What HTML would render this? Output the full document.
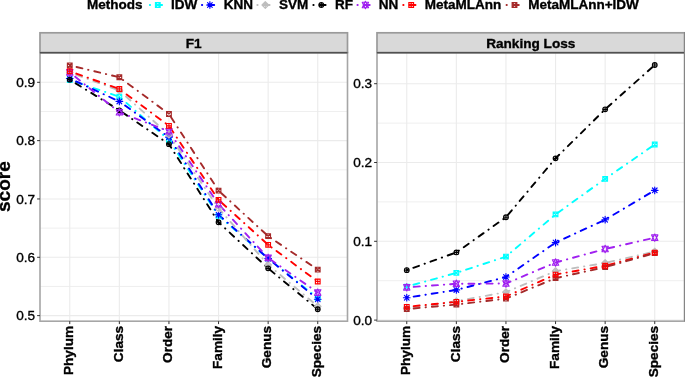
<!DOCTYPE html>
<html><head><meta charset="utf-8"><style>
html,body{margin:0;padding:0;background:#fff;width:685px;height:377px;overflow:hidden;}
svg{display:block;font-family:"Liberation Sans",sans-serif;}
svg{will-change:transform;}
</style></head><body><svg width="685" height="377" viewBox="0 0 685 377" font-family="Liberation Sans, sans-serif"><rect width="685" height="377" fill="#fff"/><rect x="40.0" y="52.5" width="307.5" height="268.7" fill="#fff"/><line x1="40.0" x2="347.5" y1="286.45" y2="286.45" stroke="#EFEFEF" stroke-width="1.0"/><line x1="40.0" x2="347.5" y1="228.12" y2="228.12" stroke="#EFEFEF" stroke-width="1.0"/><line x1="40.0" x2="347.5" y1="169.80" y2="169.80" stroke="#EFEFEF" stroke-width="1.0"/><line x1="40.0" x2="347.5" y1="111.47" y2="111.47" stroke="#EFEFEF" stroke-width="1.0"/><line x1="40.0" x2="347.5" y1="315.62" y2="315.62" stroke="#EBEBEB" stroke-width="1.1"/><line x1="40.0" x2="347.5" y1="257.29" y2="257.29" stroke="#EBEBEB" stroke-width="1.1"/><line x1="40.0" x2="347.5" y1="198.96" y2="198.96" stroke="#EBEBEB" stroke-width="1.1"/><line x1="40.0" x2="347.5" y1="140.63" y2="140.63" stroke="#EBEBEB" stroke-width="1.1"/><line x1="40.0" x2="347.5" y1="82.30" y2="82.30" stroke="#EBEBEB" stroke-width="1.1"/><line x1="69.76" x2="69.76" y1="52.5" y2="321.2" stroke="#EBEBEB" stroke-width="1.1"/><line x1="119.35" x2="119.35" y1="52.5" y2="321.2" stroke="#EBEBEB" stroke-width="1.1"/><line x1="168.95" x2="168.95" y1="52.5" y2="321.2" stroke="#EBEBEB" stroke-width="1.1"/><line x1="218.55" x2="218.55" y1="52.5" y2="321.2" stroke="#EBEBEB" stroke-width="1.1"/><line x1="268.15" x2="268.15" y1="52.5" y2="321.2" stroke="#EBEBEB" stroke-width="1.1"/><line x1="317.74" x2="317.74" y1="52.5" y2="321.2" stroke="#EBEBEB" stroke-width="1.1"/><polyline points="69.76,79.97 119.35,96.71 168.95,140.05 218.55,215.88 268.15,258.46 317.74,298.12" fill="none" stroke="#00FFFF" stroke-width="1.9" stroke-dasharray="0.3 5.98 6.0 5.98" stroke-dashoffset="-0.68" stroke-linecap="round" stroke-linejoin="round"/><polyline points="69.76,78.51 119.35,101.43 168.95,137.13 218.55,214.71 268.15,258.46 317.74,299.29" fill="none" stroke="#0000FF" stroke-width="1.9" stroke-dasharray="0.3 5.98 6.0 5.98" stroke-dashoffset="-0.68" stroke-linecap="round" stroke-linejoin="round"/><polyline points="69.76,72.38 119.35,90.47 168.95,134.80 218.55,208.29 268.15,264.87 317.74,306.29" fill="none" stroke="#BEBEBE" stroke-width="1.9" stroke-dasharray="0.3 5.98 6.0 5.98" stroke-dashoffset="-0.68" stroke-linecap="round" stroke-linejoin="round"/><polyline points="69.76,79.68 119.35,110.30 168.95,144.13 218.55,222.29 268.15,268.37 317.74,309.20" fill="none" stroke="#000000" stroke-width="1.9" stroke-dasharray="0.3 5.98 6.0 5.98" stroke-dashoffset="-0.68" stroke-linecap="round" stroke-linejoin="round"/><polyline points="69.76,72.38 119.35,112.28 168.95,131.30 218.55,204.21 268.15,257.87 317.74,292.58" fill="none" stroke="#A020F0" stroke-width="1.9" stroke-dasharray="0.3 5.98 6.0 5.98" stroke-dashoffset="-0.68" stroke-linecap="round" stroke-linejoin="round"/><polyline points="69.76,71.22 119.35,89.01 168.95,125.81 218.55,199.89 268.15,244.81 317.74,281.50" fill="none" stroke="#FF0000" stroke-width="1.9" stroke-dasharray="0.3 5.98 6.0 5.98" stroke-dashoffset="-0.68" stroke-linecap="round" stroke-linejoin="round"/><polyline points="69.76,65.38 119.35,77.28 168.95,113.97 218.55,190.62 268.15,236.17 317.74,269.60" fill="none" stroke="#A52A2A" stroke-width="1.9" stroke-dasharray="0.3 5.98 6.0 5.98" stroke-dashoffset="-0.68" stroke-linecap="round" stroke-linejoin="round"/><path d="M67.41 77.62H72.11V82.32H67.41Z M67.41 77.62L72.11 82.32M67.41 82.32L72.11 77.62" stroke="#00FFFF" stroke-width="1.15" fill="none"/><path d="M117.00 94.36H121.70V99.06H117.00Z M117.00 94.36L121.70 99.06M117.00 99.06L121.70 94.36" stroke="#00FFFF" stroke-width="1.15" fill="none"/><path d="M166.60 137.70H171.30V142.40H166.60Z M166.60 137.70L171.30 142.40M166.60 142.40L171.30 137.70" stroke="#00FFFF" stroke-width="1.15" fill="none"/><path d="M216.20 213.53H220.90V218.23H216.20Z M216.20 213.53L220.90 218.23M216.20 218.23L220.90 213.53" stroke="#00FFFF" stroke-width="1.15" fill="none"/><path d="M265.80 256.11H270.50V260.81H265.80Z M265.80 256.11L270.50 260.81M265.80 260.81L270.50 256.11" stroke="#00FFFF" stroke-width="1.15" fill="none"/><path d="M315.39 295.77H320.09V300.47H315.39Z M315.39 295.77L320.09 300.47M315.39 300.47L320.09 295.77" stroke="#00FFFF" stroke-width="1.15" fill="none"/><path d="M66.43 78.51H73.08M69.76 75.19V81.83M67.41 76.16L72.11 80.86M67.41 80.86L72.11 76.16" stroke="#0000FF" stroke-width="1.15" fill="none" stroke-linecap="round"/><path d="M116.03 101.43H122.68M119.35 98.11V104.76M117.00 99.08L121.70 103.78M117.00 103.78L121.70 99.08" stroke="#0000FF" stroke-width="1.15" fill="none" stroke-linecap="round"/><path d="M165.63 137.13H172.27M168.95 133.81V140.45M166.60 134.78L171.30 139.48M166.60 139.48L171.30 134.78" stroke="#0000FF" stroke-width="1.15" fill="none" stroke-linecap="round"/><path d="M215.23 214.71H221.87M218.55 211.39V218.03M216.20 212.36L220.90 217.06M216.20 217.06L220.90 212.36" stroke="#0000FF" stroke-width="1.15" fill="none" stroke-linecap="round"/><path d="M264.82 258.46H271.47M268.15 255.13V261.78M265.80 256.11L270.50 260.81M265.80 260.81L270.50 256.11" stroke="#0000FF" stroke-width="1.15" fill="none" stroke-linecap="round"/><path d="M314.42 299.29H321.07M317.74 295.96V302.61M315.39 296.94L320.09 301.64M315.39 301.64L320.09 296.94" stroke="#0000FF" stroke-width="1.15" fill="none" stroke-linecap="round"/><path d="M69.76 69.06L73.08 72.38L69.76 75.71L66.43 72.38Z M66.43 72.38H73.08M69.76 69.06V75.71" stroke="#BEBEBE" stroke-width="1.15" fill="none" stroke-linejoin="round"/><path d="M119.35 87.14L122.68 90.47L119.35 93.79L116.03 90.47Z M116.03 90.47H122.68M119.35 87.14V93.79" stroke="#BEBEBE" stroke-width="1.15" fill="none" stroke-linejoin="round"/><path d="M168.95 131.47L172.27 134.80L168.95 138.12L165.63 134.80Z M165.63 134.80H172.27M168.95 131.47V138.12" stroke="#BEBEBE" stroke-width="1.15" fill="none" stroke-linejoin="round"/><path d="M218.55 204.97L221.87 208.29L218.55 211.62L215.23 208.29Z M215.23 208.29H221.87M218.55 204.97V211.62" stroke="#BEBEBE" stroke-width="1.15" fill="none" stroke-linejoin="round"/><path d="M268.15 261.55L271.47 264.87L268.15 268.20L264.82 264.87Z M264.82 264.87H271.47M268.15 261.55V268.20" stroke="#BEBEBE" stroke-width="1.15" fill="none" stroke-linejoin="round"/><path d="M317.74 302.96L321.07 306.29L317.74 309.61L314.42 306.29Z M314.42 306.29H321.07M317.74 302.96V309.61" stroke="#BEBEBE" stroke-width="1.15" fill="none" stroke-linejoin="round"/><circle cx="69.76" cy="79.68" r="2.35" stroke="#000000" stroke-width="1.15" fill="none"/><path d="M67.41 79.68H72.11M69.76 77.33V82.03" stroke="#000000" stroke-width="1.15" fill="none"/><circle cx="119.35" cy="110.30" r="2.35" stroke="#000000" stroke-width="1.15" fill="none"/><path d="M117.00 110.30H121.70M119.35 107.95V112.65" stroke="#000000" stroke-width="1.15" fill="none"/><circle cx="168.95" cy="144.13" r="2.35" stroke="#000000" stroke-width="1.15" fill="none"/><path d="M166.60 144.13H171.30M168.95 141.78V146.48" stroke="#000000" stroke-width="1.15" fill="none"/><circle cx="218.55" cy="222.29" r="2.35" stroke="#000000" stroke-width="1.15" fill="none"/><path d="M216.20 222.29H220.90M218.55 219.94V224.64" stroke="#000000" stroke-width="1.15" fill="none"/><circle cx="268.15" cy="268.37" r="2.35" stroke="#000000" stroke-width="1.15" fill="none"/><path d="M265.80 268.37H270.50M268.15 266.02V270.72" stroke="#000000" stroke-width="1.15" fill="none"/><circle cx="317.74" cy="309.20" r="2.35" stroke="#000000" stroke-width="1.15" fill="none"/><path d="M315.39 309.20H320.09M317.74 306.85V311.55" stroke="#000000" stroke-width="1.15" fill="none"/><path d="M69.76 68.73L72.92 75.12L66.59 75.12Z M69.76 76.04L72.92 69.64L66.59 69.64Z" stroke="#A020F0" stroke-width="1.15" fill="none" stroke-linejoin="round"/><path d="M119.35 108.63L122.52 115.02L116.19 115.02Z M119.35 115.94L122.52 109.54L116.19 109.54Z" stroke="#A020F0" stroke-width="1.15" fill="none" stroke-linejoin="round"/><path d="M168.95 127.64L172.12 134.04L165.79 134.04Z M168.95 134.95L172.12 128.56L165.79 128.56Z" stroke="#A020F0" stroke-width="1.15" fill="none" stroke-linejoin="round"/><path d="M218.55 200.56L221.71 206.95L215.38 206.95Z M218.55 207.86L221.71 201.47L215.38 201.47Z" stroke="#A020F0" stroke-width="1.15" fill="none" stroke-linejoin="round"/><path d="M268.15 254.22L271.31 260.61L264.98 260.61Z M268.15 261.53L271.31 255.13L264.98 255.13Z" stroke="#A020F0" stroke-width="1.15" fill="none" stroke-linejoin="round"/><path d="M317.74 288.93L320.91 295.32L314.58 295.32Z M317.74 296.23L320.91 289.84L314.58 289.84Z" stroke="#A020F0" stroke-width="1.15" fill="none" stroke-linejoin="round"/><path d="M67.41 63.03H72.11V67.73H67.41Z M67.41 63.03L72.11 67.73M67.41 67.73L72.11 63.03" stroke="#A52A2A" stroke-width="1.15" fill="none"/><path d="M117.00 74.93H121.70V79.63H117.00Z M117.00 74.93L121.70 79.63M117.00 79.63L121.70 74.93" stroke="#A52A2A" stroke-width="1.15" fill="none"/><path d="M166.60 111.62H171.30V116.32H166.60Z M166.60 111.62L171.30 116.32M166.60 116.32L171.30 111.62" stroke="#A52A2A" stroke-width="1.15" fill="none"/><path d="M216.20 188.27H220.90V192.97H216.20Z M216.20 188.27L220.90 192.97M216.20 192.97L220.90 188.27" stroke="#A52A2A" stroke-width="1.15" fill="none"/><path d="M265.80 233.82H270.50V238.52H265.80Z M265.80 233.82L270.50 238.52M265.80 238.52L270.50 233.82" stroke="#A52A2A" stroke-width="1.15" fill="none"/><path d="M315.39 267.25H320.09V271.95H315.39Z M315.39 267.25L320.09 271.95M315.39 271.95L320.09 267.25" stroke="#A52A2A" stroke-width="1.15" fill="none"/><path d="M67.41 68.87H72.11V73.57H67.41Z M67.41 71.22H72.11M69.76 68.87V73.57" stroke="#FF0000" stroke-width="1.15" fill="none"/><path d="M117.00 86.66H121.70V91.36H117.00Z M117.00 89.01H121.70M119.35 86.66V91.36" stroke="#FF0000" stroke-width="1.15" fill="none"/><path d="M166.60 123.46H171.30V128.16H166.60Z M166.60 125.81H171.30M168.95 123.46V128.16" stroke="#FF0000" stroke-width="1.15" fill="none"/><path d="M216.20 197.54H220.90V202.24H216.20Z M216.20 199.89H220.90M218.55 197.54V202.24" stroke="#FF0000" stroke-width="1.15" fill="none"/><path d="M265.80 242.46H270.50V247.16H265.80Z M265.80 244.81H270.50M268.15 242.46V247.16" stroke="#FF0000" stroke-width="1.15" fill="none"/><path d="M315.39 279.15H320.09V283.85H315.39Z M315.39 281.50H320.09M317.74 279.15V283.85" stroke="#FF0000" stroke-width="1.15" fill="none"/><rect x="40.0" y="52.5" width="307.5" height="268.7" fill="none" stroke="#A6A6A6" stroke-width="1.6"/><rect x="40.0" y="32.8" width="307.5" height="19.700000000000003" fill="#D9D9D9" stroke="#9A9A9A" stroke-width="1.7"/><line x1="40.0" x2="347.5" y1="52.7" y2="52.7" stroke="#505050" stroke-width="1.4"/><text x="193.75" y="47.8" text-anchor="middle" font-weight="bold" font-size="13.6" stroke="#000" stroke-width="0.35">F1</text><line x1="37.10" x2="40.00" y1="315.62" y2="315.62" stroke="#333" stroke-width="1"/><text x="35.20" y="320.17" text-anchor="end" font-size="13.6" stroke="#000" stroke-width="0.35">0.5</text><line x1="37.10" x2="40.00" y1="257.29" y2="257.29" stroke="#333" stroke-width="1"/><text x="35.20" y="261.84" text-anchor="end" font-size="13.6" stroke="#000" stroke-width="0.35">0.6</text><line x1="37.10" x2="40.00" y1="198.96" y2="198.96" stroke="#333" stroke-width="1"/><text x="35.20" y="203.51" text-anchor="end" font-size="13.6" stroke="#000" stroke-width="0.35">0.7</text><line x1="37.10" x2="40.00" y1="140.63" y2="140.63" stroke="#333" stroke-width="1"/><text x="35.20" y="145.18" text-anchor="end" font-size="13.6" stroke="#000" stroke-width="0.35">0.8</text><line x1="37.10" x2="40.00" y1="82.30" y2="82.30" stroke="#333" stroke-width="1"/><text x="35.20" y="86.85" text-anchor="end" font-size="13.6" stroke="#000" stroke-width="0.35">0.9</text><line x1="69.76" x2="69.76" y1="321.2" y2="324.10" stroke="#333" stroke-width="1"/><text transform="translate(73.06,325.90) rotate(-90)" text-anchor="end" font-weight="bold" font-size="13.6" stroke="#000" stroke-width="0.35">Phylum</text><line x1="119.35" x2="119.35" y1="321.2" y2="324.10" stroke="#333" stroke-width="1"/><text transform="translate(122.65,325.90) rotate(-90)" text-anchor="end" font-weight="bold" font-size="13.6" stroke="#000" stroke-width="0.35">Class</text><line x1="168.95" x2="168.95" y1="321.2" y2="324.10" stroke="#333" stroke-width="1"/><text transform="translate(172.25,325.90) rotate(-90)" text-anchor="end" font-weight="bold" font-size="13.6" stroke="#000" stroke-width="0.35">Order</text><line x1="218.55" x2="218.55" y1="321.2" y2="324.10" stroke="#333" stroke-width="1"/><text transform="translate(221.85,325.90) rotate(-90)" text-anchor="end" font-weight="bold" font-size="13.6" stroke="#000" stroke-width="0.35">Family</text><line x1="268.15" x2="268.15" y1="321.2" y2="324.10" stroke="#333" stroke-width="1"/><text transform="translate(271.45,325.90) rotate(-90)" text-anchor="end" font-weight="bold" font-size="13.6" stroke="#000" stroke-width="0.35">Genus</text><line x1="317.74" x2="317.74" y1="321.2" y2="324.10" stroke="#333" stroke-width="1"/><text transform="translate(321.04,325.90) rotate(-90)" text-anchor="end" font-weight="bold" font-size="13.6" stroke="#000" stroke-width="0.35">Species</text><rect x="377.0" y="52.5" width="307.5" height="268.7" fill="#fff"/><line x1="377.0" x2="684.5" y1="280.70" y2="280.70" stroke="#EFEFEF" stroke-width="1.0"/><line x1="377.0" x2="684.5" y1="201.90" y2="201.90" stroke="#EFEFEF" stroke-width="1.0"/><line x1="377.0" x2="684.5" y1="123.10" y2="123.10" stroke="#EFEFEF" stroke-width="1.0"/><line x1="377.0" x2="684.5" y1="320.10" y2="320.10" stroke="#EBEBEB" stroke-width="1.1"/><line x1="377.0" x2="684.5" y1="241.30" y2="241.30" stroke="#EBEBEB" stroke-width="1.1"/><line x1="377.0" x2="684.5" y1="162.50" y2="162.50" stroke="#EBEBEB" stroke-width="1.1"/><line x1="377.0" x2="684.5" y1="83.70" y2="83.70" stroke="#EBEBEB" stroke-width="1.1"/><line x1="406.76" x2="406.76" y1="52.5" y2="321.2" stroke="#EBEBEB" stroke-width="1.1"/><line x1="456.35" x2="456.35" y1="52.5" y2="321.2" stroke="#EBEBEB" stroke-width="1.1"/><line x1="505.95" x2="505.95" y1="52.5" y2="321.2" stroke="#EBEBEB" stroke-width="1.1"/><line x1="555.55" x2="555.55" y1="52.5" y2="321.2" stroke="#EBEBEB" stroke-width="1.1"/><line x1="605.15" x2="605.15" y1="52.5" y2="321.2" stroke="#EBEBEB" stroke-width="1.1"/><line x1="654.74" x2="654.74" y1="52.5" y2="321.2" stroke="#EBEBEB" stroke-width="1.1"/><polyline points="406.76,286.61 456.35,272.90 505.95,256.59 555.55,214.43 605.15,178.81 654.74,144.53" fill="none" stroke="#00FFFF" stroke-width="1.9" stroke-dasharray="0.3 5.98 6.0 5.98" stroke-dashoffset="-0.68" stroke-linecap="round" stroke-linejoin="round"/><polyline points="406.76,297.72 456.35,289.92 505.95,277.00 555.55,242.56 605.15,219.71 654.74,190.32" fill="none" stroke="#0000FF" stroke-width="1.9" stroke-dasharray="0.3 5.98 6.0 5.98" stroke-dashoffset="-0.68" stroke-linecap="round" stroke-linejoin="round"/><polyline points="406.76,308.28 456.35,301.19 505.95,292.13 555.55,271.09 605.15,262.97 654.74,251.54" fill="none" stroke="#BEBEBE" stroke-width="1.9" stroke-dasharray="0.3 5.98 6.0 5.98" stroke-dashoffset="-0.68" stroke-linecap="round" stroke-linejoin="round"/><polyline points="406.76,270.14 456.35,252.41 505.95,217.27 555.55,158.32 605.15,109.31 654.74,65.02" fill="none" stroke="#000000" stroke-width="1.9" stroke-dasharray="0.3 5.98 6.0 5.98" stroke-dashoffset="-0.68" stroke-linecap="round" stroke-linejoin="round"/><polyline points="406.76,287.32 456.35,283.77 505.95,283.54 555.55,262.50 605.15,249.02 654.74,237.68" fill="none" stroke="#A020F0" stroke-width="1.9" stroke-dasharray="0.3 5.98 6.0 5.98" stroke-dashoffset="-0.68" stroke-linecap="round" stroke-linejoin="round"/><polyline points="406.76,306.86 456.35,301.82 505.95,296.46 555.55,274.55 605.15,265.73 654.74,252.57" fill="none" stroke="#FF0000" stroke-width="1.9" stroke-dasharray="0.3 5.98 6.0 5.98" stroke-dashoffset="-0.68" stroke-linecap="round" stroke-linejoin="round"/><polyline points="406.76,309.07 456.35,304.50 505.95,298.67 555.55,278.18 605.15,267.15 654.74,253.12" fill="none" stroke="#A52A2A" stroke-width="1.9" stroke-dasharray="0.3 5.98 6.0 5.98" stroke-dashoffset="-0.68" stroke-linecap="round" stroke-linejoin="round"/><path d="M404.41 284.26H409.11V288.96H404.41Z M404.41 284.26L409.11 288.96M404.41 288.96L409.11 284.26" stroke="#00FFFF" stroke-width="1.15" fill="none"/><path d="M454.00 270.55H458.70V275.25H454.00Z M454.00 270.55L458.70 275.25M454.00 275.25L458.70 270.55" stroke="#00FFFF" stroke-width="1.15" fill="none"/><path d="M503.60 254.24H508.30V258.94H503.60Z M503.60 254.24L508.30 258.94M503.60 258.94L508.30 254.24" stroke="#00FFFF" stroke-width="1.15" fill="none"/><path d="M553.20 212.08H557.90V216.78H553.20Z M553.20 212.08L557.90 216.78M553.20 216.78L557.90 212.08" stroke="#00FFFF" stroke-width="1.15" fill="none"/><path d="M602.80 176.46H607.50V181.16H602.80Z M602.80 176.46L607.50 181.16M602.80 181.16L607.50 176.46" stroke="#00FFFF" stroke-width="1.15" fill="none"/><path d="M652.39 142.18H657.09V146.88H652.39Z M652.39 142.18L657.09 146.88M652.39 146.88L657.09 142.18" stroke="#00FFFF" stroke-width="1.15" fill="none"/><path d="M403.43 297.72H410.08M406.76 294.40V301.04M404.41 295.37L409.11 300.07M404.41 300.07L409.11 295.37" stroke="#0000FF" stroke-width="1.15" fill="none" stroke-linecap="round"/><path d="M453.03 289.92H459.68M456.35 286.60V293.24M454.00 287.57L458.70 292.27M454.00 292.27L458.70 287.57" stroke="#0000FF" stroke-width="1.15" fill="none" stroke-linecap="round"/><path d="M502.63 277.00H509.27M505.95 273.67V280.32M503.60 274.65L508.30 279.35M503.60 279.35L508.30 274.65" stroke="#0000FF" stroke-width="1.15" fill="none" stroke-linecap="round"/><path d="M552.23 242.56H558.87M555.55 239.24V245.88M553.20 240.21L557.90 244.91M553.20 244.91L557.90 240.21" stroke="#0000FF" stroke-width="1.15" fill="none" stroke-linecap="round"/><path d="M601.82 219.71H608.47M605.15 216.39V223.03M602.80 217.36L607.50 222.06M602.80 222.06L607.50 217.36" stroke="#0000FF" stroke-width="1.15" fill="none" stroke-linecap="round"/><path d="M651.42 190.32H658.07M654.74 186.99V193.64M652.39 187.97L657.09 192.67M652.39 192.67L657.09 187.97" stroke="#0000FF" stroke-width="1.15" fill="none" stroke-linecap="round"/><path d="M406.76 304.96L410.08 308.28L406.76 311.60L403.43 308.28Z M403.43 308.28H410.08M406.76 304.96V311.60" stroke="#BEBEBE" stroke-width="1.15" fill="none" stroke-linejoin="round"/><path d="M456.35 297.86L459.68 301.19L456.35 304.51L453.03 301.19Z M453.03 301.19H459.68M456.35 297.86V304.51" stroke="#BEBEBE" stroke-width="1.15" fill="none" stroke-linejoin="round"/><path d="M505.95 288.80L509.27 292.13L505.95 295.45L502.63 292.13Z M502.63 292.13H509.27M505.95 288.80V295.45" stroke="#BEBEBE" stroke-width="1.15" fill="none" stroke-linejoin="round"/><path d="M555.55 267.76L558.87 271.09L555.55 274.41L552.23 271.09Z M552.23 271.09H558.87M555.55 267.76V274.41" stroke="#BEBEBE" stroke-width="1.15" fill="none" stroke-linejoin="round"/><path d="M605.15 259.65L608.47 262.97L605.15 266.29L601.82 262.97Z M601.82 262.97H608.47M605.15 259.65V266.29" stroke="#BEBEBE" stroke-width="1.15" fill="none" stroke-linejoin="round"/><path d="M654.74 248.22L658.07 251.54L654.74 254.87L651.42 251.54Z M651.42 251.54H658.07M654.74 248.22V254.87" stroke="#BEBEBE" stroke-width="1.15" fill="none" stroke-linejoin="round"/><circle cx="406.76" cy="270.14" r="2.35" stroke="#000000" stroke-width="1.15" fill="none"/><path d="M404.41 270.14H409.11M406.76 267.79V272.49" stroke="#000000" stroke-width="1.15" fill="none"/><circle cx="456.35" cy="252.41" r="2.35" stroke="#000000" stroke-width="1.15" fill="none"/><path d="M454.00 252.41H458.70M456.35 250.06V254.76" stroke="#000000" stroke-width="1.15" fill="none"/><circle cx="505.95" cy="217.27" r="2.35" stroke="#000000" stroke-width="1.15" fill="none"/><path d="M503.60 217.27H508.30M505.95 214.92V219.62" stroke="#000000" stroke-width="1.15" fill="none"/><circle cx="555.55" cy="158.32" r="2.35" stroke="#000000" stroke-width="1.15" fill="none"/><path d="M553.20 158.32H557.90M555.55 155.97V160.67" stroke="#000000" stroke-width="1.15" fill="none"/><circle cx="605.15" cy="109.31" r="2.35" stroke="#000000" stroke-width="1.15" fill="none"/><path d="M602.80 109.31H607.50M605.15 106.96V111.66" stroke="#000000" stroke-width="1.15" fill="none"/><circle cx="654.74" cy="65.02" r="2.35" stroke="#000000" stroke-width="1.15" fill="none"/><path d="M652.39 65.02H657.09M654.74 62.67V67.37" stroke="#000000" stroke-width="1.15" fill="none"/><path d="M406.76 283.66L409.92 290.06L403.59 290.06Z M406.76 290.97L409.92 284.58L403.59 284.58Z" stroke="#A020F0" stroke-width="1.15" fill="none" stroke-linejoin="round"/><path d="M456.35 280.12L459.52 286.51L453.19 286.51Z M456.35 287.43L459.52 281.03L453.19 281.03Z" stroke="#A020F0" stroke-width="1.15" fill="none" stroke-linejoin="round"/><path d="M505.95 279.88L509.12 286.28L502.79 286.28Z M505.95 287.19L509.12 280.80L502.79 280.80Z" stroke="#A020F0" stroke-width="1.15" fill="none" stroke-linejoin="round"/><path d="M555.55 258.84L558.71 265.24L552.38 265.24Z M555.55 266.15L558.71 259.76L552.38 259.76Z" stroke="#A020F0" stroke-width="1.15" fill="none" stroke-linejoin="round"/><path d="M605.15 245.37L608.31 251.76L601.98 251.76Z M605.15 252.68L608.31 246.28L601.98 246.28Z" stroke="#A020F0" stroke-width="1.15" fill="none" stroke-linejoin="round"/><path d="M654.74 234.02L657.91 240.42L651.58 240.42Z M654.74 241.33L657.91 234.93L651.58 234.93Z" stroke="#A020F0" stroke-width="1.15" fill="none" stroke-linejoin="round"/><path d="M404.41 306.72H409.11V311.42H404.41Z M404.41 306.72L409.11 311.42M404.41 311.42L409.11 306.72" stroke="#A52A2A" stroke-width="1.15" fill="none"/><path d="M454.00 302.15H458.70V306.85H454.00Z M454.00 302.15L458.70 306.85M454.00 306.85L458.70 302.15" stroke="#A52A2A" stroke-width="1.15" fill="none"/><path d="M503.60 296.32H508.30V301.02H503.60Z M503.60 296.32L508.30 301.02M503.60 301.02L508.30 296.32" stroke="#A52A2A" stroke-width="1.15" fill="none"/><path d="M553.20 275.83H557.90V280.53H553.20Z M553.20 275.83L557.90 280.53M553.20 280.53L557.90 275.83" stroke="#A52A2A" stroke-width="1.15" fill="none"/><path d="M602.80 264.80H607.50V269.50H602.80Z M602.80 264.80L607.50 269.50M602.80 269.50L607.50 264.80" stroke="#A52A2A" stroke-width="1.15" fill="none"/><path d="M652.39 250.77H657.09V255.47H652.39Z M652.39 250.77L657.09 255.47M652.39 255.47L657.09 250.77" stroke="#A52A2A" stroke-width="1.15" fill="none"/><path d="M404.41 304.51H409.11V309.21H404.41Z M404.41 306.86H409.11M406.76 304.51V309.21" stroke="#FF0000" stroke-width="1.15" fill="none"/><path d="M454.00 299.47H458.70V304.17H454.00Z M454.00 301.82H458.70M456.35 299.47V304.17" stroke="#FF0000" stroke-width="1.15" fill="none"/><path d="M503.60 294.11H508.30V298.81H503.60Z M503.60 296.46H508.30M505.95 294.11V298.81" stroke="#FF0000" stroke-width="1.15" fill="none"/><path d="M553.20 272.20H557.90V276.90H553.20Z M553.20 274.55H557.90M555.55 272.20V276.90" stroke="#FF0000" stroke-width="1.15" fill="none"/><path d="M602.80 263.38H607.50V268.08H602.80Z M602.80 265.73H607.50M605.15 263.38V268.08" stroke="#FF0000" stroke-width="1.15" fill="none"/><path d="M652.39 250.22H657.09V254.92H652.39Z M652.39 252.57H657.09M654.74 250.22V254.92" stroke="#FF0000" stroke-width="1.15" fill="none"/><rect x="377.0" y="52.5" width="307.5" height="268.7" fill="none" stroke="#A6A6A6" stroke-width="1.6"/><rect x="377.0" y="32.8" width="307.5" height="19.700000000000003" fill="#D9D9D9" stroke="#9A9A9A" stroke-width="1.7"/><line x1="377.0" x2="684.5" y1="52.7" y2="52.7" stroke="#505050" stroke-width="1.4"/><text x="530.75" y="47.8" text-anchor="middle" font-weight="bold" font-size="13.6" stroke="#000" stroke-width="0.35">Ranking Loss</text><line x1="374.10" x2="377.00" y1="320.10" y2="320.10" stroke="#333" stroke-width="1"/><text x="372.20" y="324.65" text-anchor="end" font-size="13.6" stroke="#000" stroke-width="0.35">0.0</text><line x1="374.10" x2="377.00" y1="241.30" y2="241.30" stroke="#333" stroke-width="1"/><text x="372.20" y="245.85" text-anchor="end" font-size="13.6" stroke="#000" stroke-width="0.35">0.1</text><line x1="374.10" x2="377.00" y1="162.50" y2="162.50" stroke="#333" stroke-width="1"/><text x="372.20" y="167.05" text-anchor="end" font-size="13.6" stroke="#000" stroke-width="0.35">0.2</text><line x1="374.10" x2="377.00" y1="83.70" y2="83.70" stroke="#333" stroke-width="1"/><text x="372.20" y="88.25" text-anchor="end" font-size="13.6" stroke="#000" stroke-width="0.35">0.3</text><line x1="406.76" x2="406.76" y1="321.2" y2="324.10" stroke="#333" stroke-width="1"/><text transform="translate(410.06,325.90) rotate(-90)" text-anchor="end" font-weight="bold" font-size="13.6" stroke="#000" stroke-width="0.35">Phylum</text><line x1="456.35" x2="456.35" y1="321.2" y2="324.10" stroke="#333" stroke-width="1"/><text transform="translate(459.65,325.90) rotate(-90)" text-anchor="end" font-weight="bold" font-size="13.6" stroke="#000" stroke-width="0.35">Class</text><line x1="505.95" x2="505.95" y1="321.2" y2="324.10" stroke="#333" stroke-width="1"/><text transform="translate(509.25,325.90) rotate(-90)" text-anchor="end" font-weight="bold" font-size="13.6" stroke="#000" stroke-width="0.35">Order</text><line x1="555.55" x2="555.55" y1="321.2" y2="324.10" stroke="#333" stroke-width="1"/><text transform="translate(558.85,325.90) rotate(-90)" text-anchor="end" font-weight="bold" font-size="13.6" stroke="#000" stroke-width="0.35">Family</text><line x1="605.15" x2="605.15" y1="321.2" y2="324.10" stroke="#333" stroke-width="1"/><text transform="translate(608.45,325.90) rotate(-90)" text-anchor="end" font-weight="bold" font-size="13.6" stroke="#000" stroke-width="0.35">Genus</text><line x1="654.74" x2="654.74" y1="321.2" y2="324.10" stroke="#333" stroke-width="1"/><text transform="translate(658.04,325.90) rotate(-90)" text-anchor="end" font-weight="bold" font-size="13.6" stroke="#000" stroke-width="0.35">Species</text><text transform="translate(10.1,186.6) rotate(-90)" text-anchor="middle" font-weight="bold" font-size="19" stroke="#000" stroke-width="0.35">score</text><line x1="684.5" x2="684.5" y1="31.999999999999996" y2="321.5" stroke="#858585" stroke-width="1"/><text x="87" y="9.45" font-weight="bold" font-size="13.5" stroke="#000" stroke-width="0.35">Methods</text><line x1="149.16" x2="166.44" y1="5.0" y2="5.0" stroke="#00FFFF" stroke-width="1.9" stroke-dasharray="0.3 5.98 6.0 5.98" stroke-dashoffset="-0.68" stroke-linecap="round"/><path d="M155.45 2.65H160.15V7.35H155.45Z M155.45 2.65L160.15 7.35M155.45 7.35L160.15 2.65" stroke="#00FFFF" stroke-width="1.15" fill="none"/><text x="171.1" y="9.45" font-weight="bold" font-size="13.5" stroke="#000" stroke-width="0.35">IDW</text><line x1="201.26" x2="218.54" y1="5.0" y2="5.0" stroke="#0000FF" stroke-width="1.9" stroke-dasharray="0.3 5.98 6.0 5.98" stroke-dashoffset="-0.68" stroke-linecap="round"/><path d="M206.58 5.00H213.22M209.90 1.68V8.32M207.55 2.65L212.25 7.35M207.55 7.35L212.25 2.65" stroke="#0000FF" stroke-width="1.15" fill="none" stroke-linecap="round"/><text x="223.7" y="9.45" font-weight="bold" font-size="13.5" stroke="#000" stroke-width="0.35">KNN</text><line x1="256.66" x2="273.94" y1="5.0" y2="5.0" stroke="#BEBEBE" stroke-width="1.9" stroke-dasharray="0.3 5.98 6.0 5.98" stroke-dashoffset="-0.68" stroke-linecap="round"/><path d="M265.30 1.68L268.62 5.00L265.30 8.32L261.98 5.00Z M261.98 5.00H268.62M265.30 1.68V8.32" stroke="#BEBEBE" stroke-width="1.15" fill="none" stroke-linejoin="round"/><text x="279.0" y="9.45" font-weight="bold" font-size="13.5" stroke="#000" stroke-width="0.35">SVM</text><line x1="312.66" x2="329.94" y1="5.0" y2="5.0" stroke="#000000" stroke-width="1.9" stroke-dasharray="0.3 5.98 6.0 5.98" stroke-dashoffset="-0.68" stroke-linecap="round"/><circle cx="321.30" cy="5.00" r="2.35" stroke="#000000" stroke-width="1.15" fill="none"/><path d="M318.95 5.00H323.65M321.30 2.65V7.35" stroke="#000000" stroke-width="1.15" fill="none"/><text x="335.0" y="9.45" font-weight="bold" font-size="13.5" stroke="#000" stroke-width="0.35">RF</text><line x1="356.76" x2="374.04" y1="5.0" y2="5.0" stroke="#A020F0" stroke-width="1.9" stroke-dasharray="0.3 5.98 6.0 5.98" stroke-dashoffset="-0.68" stroke-linecap="round"/><path d="M365.40 1.35L368.56 7.74L362.24 7.74Z M365.40 8.65L368.56 2.26L362.24 2.26Z" stroke="#A020F0" stroke-width="1.15" fill="none" stroke-linejoin="round"/><text x="378.7" y="9.45" font-weight="bold" font-size="13.5" stroke="#000" stroke-width="0.35">NN</text><line x1="402.56" x2="419.84" y1="5.0" y2="5.0" stroke="#FF0000" stroke-width="1.9" stroke-dasharray="0.3 5.98 6.0 5.98" stroke-dashoffset="-0.68" stroke-linecap="round"/><path d="M408.85 2.65H413.55V7.35H408.85Z M408.85 5.00H413.55M411.20 2.65V7.35" stroke="#FF0000" stroke-width="1.15" fill="none"/><text x="424.8" y="9.45" font-weight="bold" font-size="13.5" stroke="#000" stroke-width="0.35">MetaMLAnn</text><line x1="505.86" x2="523.14" y1="5.0" y2="5.0" stroke="#A52A2A" stroke-width="1.9" stroke-dasharray="0.3 5.98 6.0 5.98" stroke-dashoffset="-0.68" stroke-linecap="round"/><path d="M512.15 2.65H516.85V7.35H512.15Z M512.15 2.65L516.85 7.35M512.15 7.35L516.85 2.65" stroke="#A52A2A" stroke-width="1.15" fill="none"/><text x="528.2" y="9.45" font-weight="bold" font-size="13.5" stroke="#000" stroke-width="0.35">MetaMLAnn+IDW</text></svg></body></html>
